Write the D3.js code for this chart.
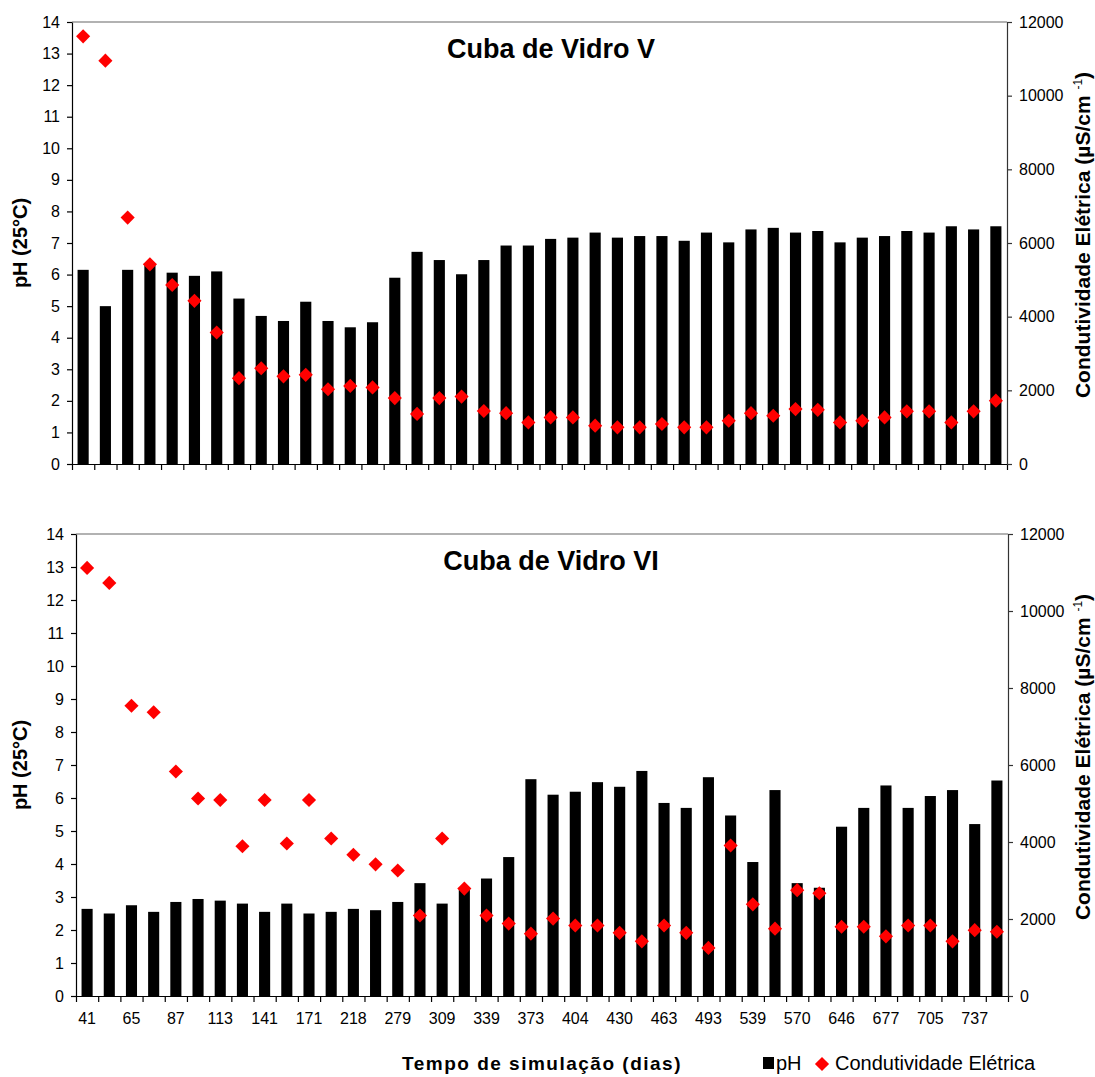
<!DOCTYPE html>
<html>
<head>
<meta charset="utf-8">
<script src="https://cdn.jsdelivr.net/npm/d3@7"></script>
<style>
  body { margin: 0; background: #fff; }
  svg { display: block; font-family: "Liberation Sans", Arial, sans-serif; }
  .tick text { font-size: 16px; fill: #000; }
  .title { font-size: 27px; font-weight: bold; }
  .ytitle { font-size: 20px; font-weight: bold; }
  .rtitle { font-size: 21px; font-weight: bold; }
</style>
</head>
<body>
<svg width="1095" height="1077"></svg>
<script>
// dias de simulação (os rótulos ímpares não aparecem no gráfico, valores estimados)
const days = [41, 53, 65, 76, 87, 100, 113, 127, 141, 156, 171, 195, 218, 248, 279, 294, 309, 324, 339, 356, 373,
              388, 404, 417, 430, 446, 463, 478, 493, 516, 539, 554, 570, 608, 646, 661, 677, 691, 705, 721, 737, 752];

// Cuba de Vidro V
const phV = [6.15, 5.0, 6.15, 6.3, 6.06, 5.96, 6.1, 5.24, 4.69, 4.53, 5.14, 4.53, 4.33, 4.49, 5.9, 6.72, 6.46, 6.01, 6.46, 6.92, 6.92,
             7.13, 7.17, 7.33, 7.17, 7.22, 7.22, 7.07, 7.33, 7.02, 7.43, 7.48, 7.33, 7.38, 7.02, 7.17, 7.22, 7.38, 7.33, 7.53, 7.43, 7.53];
const ceV = [11610, 10950, 6690, 5420, 4860, 4430, 3570, 2330, 2600, 2380, 2420, 2030, 2120, 2080, 1790, 1360, 1790, 1830, 1440, 1380, 1130,
             1265, 1265, 1040, 995, 995, 1085, 995, 995, 1175, 1380, 1310, 1490, 1470, 1130, 1175, 1265, 1430, 1430, 1130, 1430, 1720];

// Cuba de Vidro VI
const phVI = [2.64, 2.5, 2.75, 2.55, 2.85, 2.94, 2.89, 2.8, 2.55, 2.8, 2.5, 2.55, 2.64, 2.6, 2.85, 3.42, 2.8, 3.25, 3.56, 4.21, 6.57,
              6.1, 6.19, 6.48, 6.34, 6.82, 5.85, 5.7, 6.63, 5.47, 4.06, 6.24, 3.42, 3.28, 5.13, 5.7, 6.38, 5.7, 6.06, 6.24, 5.21, 6.53];
const ceVI = [11120, 10730, 7540, 7370, 5830, 5130, 5090, 3890, 5090, 3960, 5090, 4090, 3670, 3420, 3260, 2090, 4090, 2790, 2090, 1880, 1620,
              2010, 1830, 1830, 1640, 1420, 1830, 1640, 1250, 3910, 2380, 1750, 2750, 2670, 1800, 1800, 1550, 1830, 1830, 1420, 1710, 1670];

const phTicks = d3.range(0, 15);
const ceTicks = [0, 2000, 4000, 6000, 8000, 10000, 12000];

const svg = d3.select("svg");

const panels = [
    { title: "Cuba de Vidro V", ph: phV, ce: ceV, left: 72, right: 1007, top: 22, bottom: 464, labels: false },
    { title: "Cuba de Vidro VI", ph: phVI, ce: ceVI, left: 76, right: 1008, top: 534, bottom: 996, labels: true }
];

const diamond = d3.symbol().type(d3.symbolSquare).size(100);

panels.forEach(p => {
    const g = svg.append("g");

    const x = d3.scaleBand().domain(days).range([p.left, p.right]).paddingInner(0.5).paddingOuter(0.25);
    const xEdge = d3.scaleLinear().domain([0, days.length]).range([p.left, p.right]);
    const yPh = d3.scaleLinear().domain([0, 14]).range([p.bottom, p.top]);
    const yCe = d3.scaleLinear().domain([0, 12000]).range([p.bottom, p.top]);

    // borda superior
    g.append("line")
        .attr("x1", p.left).attr("x2", p.right)
        .attr("y1", p.top).attr("y2", p.top)
        .attr("stroke", "#999").attr("stroke-width", 1.5);

    // barras de pH
    g.append("g").selectAll("rect")
        .data(p.ph)
        .join("rect")
        .attr("x", (d, i) => x(days[i]))
        .attr("width", x.bandwidth())
        .attr("y", d => yPh(d))
        .attr("height", d => p.bottom - yPh(d))
        .attr("fill", "#000");

    // eixo x: marcas nas divisões das categorias
    g.append("g")
        .attr("transform", "translate(0," + p.bottom + ")")
        .call(d3.axisBottom(xEdge).tickValues(d3.range(0, days.length + 1)).tickSize(6).tickSizeOuter(0).tickFormat(""))
        .call(a => a.selectAll("line, path").attr("stroke", "#000").attr("stroke-width", 1.2));

    if (p.labels) {
        g.append("g")
            .attr("transform", "translate(0," + p.bottom + ")")
            .call(d3.axisBottom(x).tickSize(0).tickPadding(17).tickFormat((d, i) => i % 2 === 0 ? d : ""))
            .call(a => a.select(".domain").remove());
    }

    // eixo esquerdo (pH)
    g.append("g")
        .attr("transform", "translate(" + p.left + ",0)")
        .call(d3.axisLeft(yPh).tickValues(phTicks).tickSize(5).tickSizeOuter(0).tickPadding(7))
        .call(a => a.selectAll("line, path").attr("stroke", "#000").attr("stroke-width", 1.2));

    // eixo direito (condutividade)
    g.append("g")
        .attr("transform", "translate(" + p.right + ",0)")
        .call(d3.axisRight(yCe).tickValues(ceTicks).tickSize(5).tickSizeOuter(0).tickPadding(7).tickFormat(d3.format("d")))
        .call(a => a.selectAll("line, path").attr("stroke", "#333").attr("stroke-width", 1.2));

    // condutividade elétrica
    g.append("g").selectAll("path")
        .data(p.ce)
        .join("path")
        .attr("d", diamond)
        .attr("transform", (d, i) => "translate(" + (x(days[i]) + x.bandwidth() / 2) + "," + yCe(d) + ") rotate(45)")
        .attr("fill", "#ff0000");

    // títulos
    const mid = (p.top + p.bottom) / 2;
    g.append("text")
        .attr("class", "title")
        .attr("x", 551).attr("y", p.top + 36)
        .attr("text-anchor", "middle")
        .text(p.title);

    g.append("text")
        .attr("class", "ytitle")
        .attr("transform", "translate(27," + mid + ") rotate(-90)")
        .attr("text-anchor", "middle")
        .text("pH (25\u00B0C)");

    const rt = g.append("text")
        .attr("class", "rtitle")
        .attr("transform", "translate(1090," + (mid - 8) + ") rotate(-90)")
        .attr("text-anchor", "middle");
    rt.append("tspan").text("Condutividade Elétrica (µS/cm ");
    rt.append("tspan").attr("dy", -8).attr("font-size", 12).attr("font-weight", "normal").text("-1");
    rt.append("tspan").attr("dy", 8).text(")");
});

// título do eixo x e legenda
svg.append("text")
    .attr("x", 542).attr("y", 1070)
    .attr("text-anchor", "middle")
    .attr("font-size", 19).attr("font-weight", "bold").attr("letter-spacing", 1.5)
    .text("Tempo de simulação (dias)");

const leg = svg.append("g").attr("transform", "translate(763,1063)");
leg.append("rect").attr("x", 0).attr("y", -6).attr("width", 11).attr("height", 12).attr("fill", "#000");
leg.append("text").attr("x", 13).attr("y", 7).attr("font-size", 20).text("pH");
leg.append("path").attr("d", diamond).attr("transform", "translate(59,1) rotate(45)").attr("fill", "#ff0000");
leg.append("text").attr("x", 72).attr("y", 7).attr("font-size", 20).text("Condutividade Elétrica");
</script>
</body>
</html>
